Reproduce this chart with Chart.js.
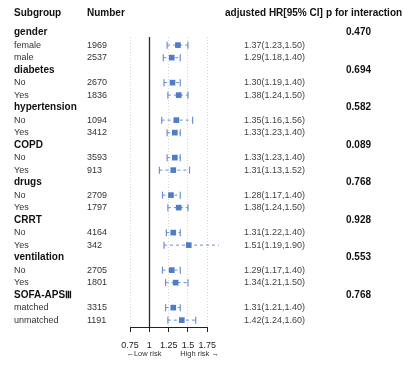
<!DOCTYPE html>
<html>
<head>
<meta charset="utf-8">
<script src="https://cdn.jsdelivr.net/npm/chart.js@4.4.1/dist/chart.umd.min.js"></script>
<style>
  html, body { margin: 0; padding: 0; background: #ffffff; }
  #wrap { width: 403px; height: 368px; }
</style>
</head>
<body>
<div id="wrap"><canvas id="forest" width="403" height="368"></canvas></div>
<script>
// Subgroup headers and their interaction p-values
const groupNames = ['gender', 'diabetes', 'hypertension', 'COPD', 'drugs', 'CRRT', 'ventilation', 'SOFA-APS\u2162'];
const pInteraction = ['0.470', '0.694', '0.582', '0.089', '0.768', '0.928', '0.553', '0.768'];

// Two levels per subgroup
const levelLabels = ['female', 'male', 'No', 'Yes', 'No', 'Yes', 'No', 'Yes', 'No', 'Yes', 'No', 'Yes', 'No', 'Yes', 'matched', 'unmatched'];
const levelCounts = [1969, 2537, 2670, 1836, 1094, 3412, 3593, 913, 2709, 1797, 4164, 342, 2705, 1801, 3315, 1191];
const hazardRatio = [1.37, 1.29, 1.30, 1.38, 1.35, 1.33, 1.33, 1.31, 1.28, 1.38, 1.31, 1.51, 1.29, 1.34, 1.31, 1.42];
const ciLower = [1.23, 1.18, 1.19, 1.24, 1.16, 1.23, 1.23, 1.13, 1.17, 1.24, 1.22, 1.19, 1.17, 1.21, 1.21, 1.24];
const ciUpper = [1.50, 1.40, 1.40, 1.50, 1.56, 1.40, 1.40, 1.52, 1.40, 1.50, 1.40, 1.90, 1.40, 1.50, 1.40, 1.60];

// Hazard ratio axis
const tickValues = [0.75, 1, 1.25, 1.5, 1.75];
const tickLabels = ['0.75', '1', '1.25', '1.5', '1.75'];

// Row index on the y scale: each subgroup takes a header row plus two level rows
const rowOfLevel = i => Math.floor(i / 2) * 3 + 1 + (i % 2);
const rowOfGroup = g => g * 3;

const markerColor = '#4f7cc8';
const whiskerColor = '#6a90cf';

// One dashed whisker dataset per level, capped at both ends
const whiskerSets = hazardRatio.map((_, i) => ({
  type: 'line',
  data: [{ x: ciLower[i], y: rowOfLevel(i) }, { x: ciUpper[i], y: rowOfLevel(i) }],
  borderColor: whiskerColor,
  borderWidth: 1,
  borderDash: [3, 3],
  pointStyle: 'line',
  rotation: 90,
  pointRadius: 3.5,
  pointBorderColor: whiskerColor,
  pointBorderWidth: 1.2,
  pointHoverRadius: 3.5,
  clip: false,
  order: 2
}));

const pointSet = {
  type: 'scatter',
  data: hazardRatio.map((v, i) => ({ x: v, y: rowOfLevel(i) })),
  pointStyle: 'rect',
  pointRadius: 4,
  pointHoverRadius: 4,
  backgroundColor: markerColor,
  borderColor: markerColor,
  borderWidth: 0,
  clip: false,
  order: 1
};

const fmt = v => v.toFixed(2);

// Table columns, reference line and risk captions
const forestTable = {
  id: 'forestTable',
  afterDatasetsDraw(chart) {
    const ctx = chart.ctx;
    const xs = chart.scales.x;
    const ys = chart.scales.y;
    const area = chart.chartArea;
    ctx.save();

    // line of no effect at HR = 1
    const x1 = Math.round(xs.getPixelForValue(1)) + 0.5;
    ctx.strokeStyle = '#2b2b2b';
    ctx.lineWidth = 1.3;
    ctx.beginPath();
    ctx.moveTo(x1, area.top);
    ctx.lineTo(x1, area.bottom);
    ctx.stroke();

    ctx.textBaseline = 'middle';
    ctx.textAlign = 'left';
    const sans = '"Liberation Sans", Arial, sans-serif';

    // column headers
    const headY = ys.getPixelForValue(-1.55);
    ctx.fillStyle = '#111';
    ctx.font = 'bold 10px ' + sans;
    ctx.fillText('Subgroup', 14, headY);
    ctx.fillText('Number', 87, headY);
    ctx.fillText('adjusted HR[95% CI]', 225, headY);
    ctx.fillText('p for interaction', 326, headY);

    // subgroup headers with p for interaction
    groupNames.forEach((name, g) => {
      const y = ys.getPixelForValue(rowOfGroup(g));
      ctx.fillStyle = '#111';
      ctx.font = 'bold 10px ' + sans;
      ctx.fillText(name, 14, y);
      ctx.fillText(pInteraction[g], 346, y);
    });

    // level rows
    levelLabels.forEach((label, i) => {
      const y = ys.getPixelForValue(rowOfLevel(i));
      ctx.font = '9px ' + sans;
      ctx.fillStyle = '#333';
      ctx.fillText(label, 14, y);
      ctx.fillText(String(levelCounts[i]), 87, y);
      ctx.fillStyle = '#444';
      ctx.fillText(fmt(hazardRatio[i]) + '(' + fmt(ciLower[i]) + ',' + fmt(ciUpper[i]) + ')', 244, y);
    });

    // risk direction captions under the axis
    ctx.font = '7.5px ' + sans;
    ctx.fillStyle = '#333';
    ctx.textAlign = 'center';
    const capY = area.bottom + 27;
    ctx.fillText('\u2190Low risk', xs.getPixelForValue(0.93), capY);
    ctx.fillText('High risk \u2192', xs.getPixelForValue(1.65), capY);

    ctx.restore();
  }
};

new Chart(document.getElementById('forest'), {
  data: { datasets: [...whiskerSets, pointSet] },
  options: {
    responsive: false,
    animation: false,
    events: [],
    layout: { padding: { left: 130, right: 195.7, top: 37, bottom: 11 } },
    plugins: { legend: { display: false }, tooltip: { enabled: false } },
    scales: {
      x: {
        type: 'linear',
        position: 'bottom',
        min: 0.75,
        max: 1.75,
        afterBuildTicks: s => { s.ticks = tickValues.map(v => ({ value: v })); },
        afterFit: s => { s.height = 30; },
        ticks: {
          autoSkip: false,
          maxRotation: 0,
          minRotation: 0,
          padding: 8,
          color: '#222',
          font: { family: '"Liberation Sans", Arial, sans-serif', size: 9 },
          callback: (v, idx) => tickLabels[idx]
        },
        grid: {
          color: '#d6d6d6',
          lineWidth: 1,
          drawTicks: true,
          tickLength: 5,
          tickColor: '#222',
          tickWidth: 1
        },
        border: { display: true, color: '#222', width: 1, dash: [1, 2] }
      },
      y: {
        type: 'linear',
        display: false,
        reverse: true,
        min: 0.35,
        max: 23.55
      }
    }
  },
  plugins: [forestTable]
});
</script>
</body>
</html>
